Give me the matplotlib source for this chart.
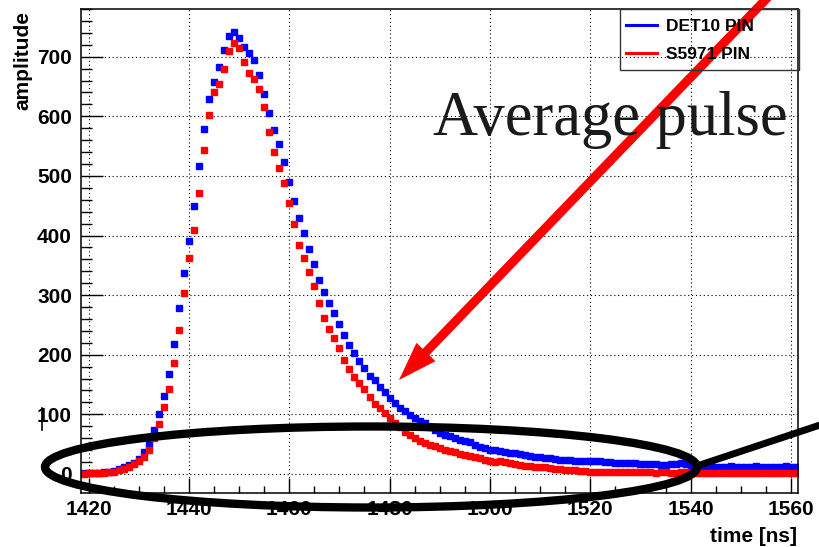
import numpy as np
import matplotlib.pyplot as plt
from matplotlib.lines import Line2D
from matplotlib.patches import Ellipse, Rectangle
from matplotlib.ticker import MultipleLocator

plt.rcParams["font.family"] = ["Liberation Sans", "DejaVu Sans"]

# sample times [ns], one point per ns
times = np.arange(1419, 1562)

det10 = [
    1, 1, 2, 2, 3, 4, 5, 8, 11, 15,
    19, 25, 36, 50, 74, 100, 131, 168, 218, 278,
    337, 390, 450, 517, 579, 629, 658, 683, 711, 735,
    742, 731, 717, 707, 694, 670, 637, 605, 577, 553,
    523, 490, 458, 429, 404, 377, 352, 326, 306, 286,
    270, 251, 233, 217, 203, 190, 177, 165, 157, 145,
    137, 127, 119, 110, 105, 99, 93, 89, 85, 79,
    74, 69, 65, 63, 60, 57, 55, 53, 49, 46,
    43, 40, 40, 38, 36, 35, 35, 33, 31, 30,
    29, 28, 27, 26, 25, 24, 24, 23, 22, 22,
    21, 21, 21, 21, 20, 20, 19, 19, 18, 18,
    18, 17, 17, 16, 16, 15, 15, 16, 17, 18,
    16, 14, 13, 12, 12, 13, 12, 11, 12, 13,
    12, 12, 11, 12, 13, 12, 12, 11, 12, 12,
    13, 12, 12,
]

s5971 = [
    0, 1, 1, 2, 2, 3, 4, 6, 9, 12,
    16, 21, 29, 40, 61, 84, 112, 142, 186, 241,
    304, 363, 410, 471, 544, 603, 640, 655, 679, 709,
    723, 715, 691, 673, 663, 646, 616, 574, 540, 514,
    488, 455, 419, 384, 363, 338, 315, 287, 261, 243,
    228, 211, 191, 176, 162, 152, 142, 129, 117, 110,
    102, 93, 86, 78, 71, 65, 60, 56, 52, 49,
    47, 43, 40, 39, 36, 34, 32, 30, 28, 26,
    24, 21, 20, 21, 20, 18, 17, 15, 14, 13,
    12, 12, 11, 10, 9, 8, 7, 7, 6, 5,
    5, 4, 4, 4, 4, 3, 3, 3, 3, 3,
    3, 3, 3, 3, 2, 3, 3, 2, 2, 3,
    3, 2, 2, 2, 2, 2, 2, 2, 2, 2,
    2, 2, 2, 2, 2, 1, 2, 2, 2, 2,
    2, 2, 2,
]

series_names = ["DET10 PIN", "S5971 PIN"]
series_colors = ["blue", "red"]

W, H = 819, 547


def fx(px):
    return px / W


def fy(py):
    return 1 - py / H


fig = plt.figure(figsize=(W / 100, H / 100), dpi=100)
ax = fig.add_axes([fx(81), fy(493), fx(798) - fx(81), fy(9) - fy(493)])

for vals, col in zip([det10, s5971], series_colors):
    ax.errorbar(times, vals, xerr=0.5, fmt="s", ms=5, color=col, mec=col,
                elinewidth=1, capsize=0, clip_on=True)

ax.set_xlim(1418.5, 1561.4)
ax.set_ylim(-32, 780)
ax.xaxis.set_major_locator(MultipleLocator(20))
ax.xaxis.set_minor_locator(MultipleLocator(5))
ax.yaxis.set_major_locator(MultipleLocator(100))
ax.yaxis.set_minor_locator(MultipleLocator(20))

ax.tick_params(which="both", direction="in", top=False, right=False, width=1,
               labelsize=15, color="black")
ax.tick_params(axis="x", which="major", length=10.8, pad=5)
ax.tick_params(axis="x", which="minor", length=5.4)
ax.tick_params(axis="y", which="major", length=15.8, pad=6.5)
ax.tick_params(axis="y", which="minor", length=8)
for lab in ax.get_xticklabels() + ax.get_yticklabels():
    lab.set_fontweight("bold")

ax.grid(True, which="major", color="black", linestyle=(0, (1, 2.5)), linewidth=0.8)
for sp in ax.spines.values():
    sp.set_linewidth(1.1)

fig.text(fx(797), fy(541.7), "time [ns]", ha="right", va="baseline",
         fontsize=15, fontweight="bold")
fig.text(fx(23), fy(11), "amplitude", ha="center", va="top", rotation=90,
         fontsize=15, fontweight="bold")

# legend (ROOT style box, no fill)
handles = [Line2D([], [], color=c, lw=2.2) for c in series_colors]
ax.legend(handles, series_names, loc="upper left", bbox_to_anchor=(fx(621), fy(14)),
          bbox_transform=fig.transFigure, frameon=False, borderaxespad=0,
          borderpad=0.3, handlelength=1.8, handletextpad=0.48, labelspacing=0.72,
          prop=dict(family="Liberation Sans", weight="bold", size=12.5))
fig.add_artist(Rectangle((fx(620), fy(70)), fx(799) - fx(620), fy(9) - fy(70),
                         transform=fig.transFigure, fill=False, edgecolor="#333333", lw=1))

# hand-drawn annotations
fig.text(fx(432.7), fy(135), "Average pulse", ha="left", va="baseline",
         family=["Liberation Serif", "DejaVu Serif"], fontsize=45, color="#1a1a1a")

fig.add_artist(Ellipse((fx(371), fy(467)), fx(652), 81 / H, transform=fig.transFigure,
                       fill=False, edgecolor="black", lw=6))
fig.add_artist(Line2D([fx(697), fx(835)], [fy(466), fy(420)], transform=fig.transFigure,
                      color="black", lw=5))
fig.add_artist(Line2D([fx(41.7), fx(41.7)], [fy(408), fy(430)], transform=fig.transFigure,
                      color="black", lw=1.2))

ax.annotate("", xy=(fx(399), fy(380)), xytext=(fx(770), fy(-5)),
            xycoords="figure fraction", textcoords="figure fraction",
            annotation_clip=False,
            arrowprops=dict(width=6.5, headwidth=19, headlength=28, shrink=0,
                            facecolor="red", edgecolor="none"))

fig.savefig("out.png", dpi=100)
